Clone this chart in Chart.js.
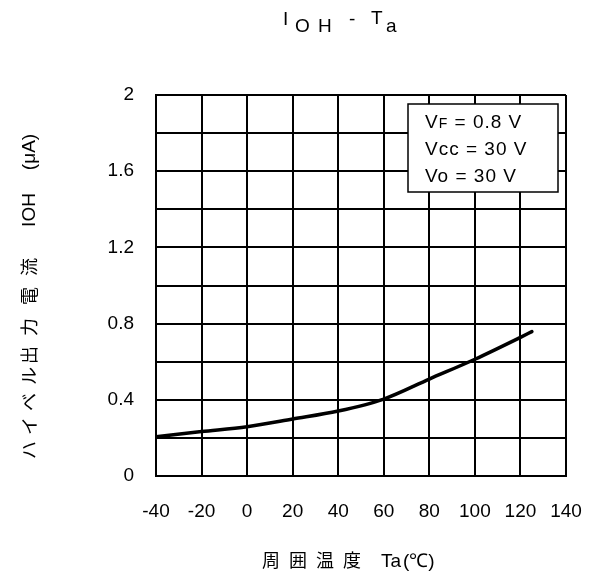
<!DOCTYPE html>
<html>
<head>
<meta charset="utf-8">
<script src="https://cdn.jsdelivr.net/npm/chart.js@4"></script>
<style>
html,body{margin:0;padding:0;background:#fff;}
#wrap{width:592px;height:576px;position:relative;}
</style>
</head>
<body>
<div id="wrap"><canvas id="c" width="592" height="576"></canvas></div>
<script>
// Data
const temps = [-40, -20, 0, 20, 40, 60, 80, 100, 120, 125];
const iohValues = [0.206, 0.233, 0.259, 0.299, 0.341, 0.404, 0.509, 0.613, 0.728, 0.758];
const xTicks = [-40, -20, 0, 20, 40, 60, 80, 100, 120, 140];
const yLabelTicks = [0, 0.4, 0.8, 1.2, 1.6, 2];
const conditionLines = [["V", "F", " = 0.8 V"], ["Vcc = 30 V", "", ""], ["Vo = 30 V", "", ""]];

const LAT = '"Liberation Sans", Arial, sans-serif';
const CJK = '"Noto Sans CJK JP", sans-serif';

const points = temps.map((t, i) => ({x: t, y: iohValues[i]}));

const decor = {
  id: 'decor',
  afterDraw(chart) {
    const ctx = chart.ctx;
    ctx.save();
    ctx.fillStyle = '#000';
    ctx.textBaseline = 'alphabetic';
    ctx.textAlign = 'left';
    // Title  I_OH - T_a
    ctx.font = '19px ' + LAT;
    ctx.fillText('I', 283, 25);
    ctx.fillText('O', 295, 32);
    ctx.fillText('H', 318, 32);
    ctx.fillText('-', 349, 25);
    ctx.fillText('T', 371, 24);
    ctx.fillText('a', 386, 32);

    // Condition box
    const bx = 408, by = 104, bw = 150, bh = 88;
    ctx.fillStyle = '#fff';
    ctx.fillRect(bx, by, bw, bh);
    ctx.strokeStyle = '#000';
    ctx.lineWidth = 1.5;
    ctx.strokeRect(bx, by, bw, bh);
    ctx.fillStyle = '#000';
    const baselines = [128, 155, 182];
    ctx.letterSpacing = '1px';
    conditionLines.forEach((ln, i) => {
      let x = 425;
      ctx.font = '19px ' + LAT;
      ctx.fillText(ln[0], x, baselines[i]);
      x += ctx.measureText(ln[0]).width;
      if (ln[1]) {
        ctx.font = '14px ' + LAT;
        ctx.fillText(ln[1], x, baselines[i]);
        x += ctx.measureText(ln[1]).width;
      }
      if (ln[2]) {
        ctx.font = '19px ' + LAT;
        ctx.fillText(ln[2], x, baselines[i]);
      }
    });
    ctx.letterSpacing = '0px';

    // X axis title
    ctx.textAlign = 'center';
    ctx.textBaseline = 'middle';
    ctx.font = '18px ' + CJK;
    [['周', 271], ['囲', 298], ['温', 325], ['度', 352]].forEach(p => ctx.fillText(p[0], p[1], 560));
    ctx.textAlign = 'left';
    ctx.textBaseline = 'alphabetic';
    ctx.font = '19px ' + LAT;
    ctx.fillText('Ta', 381, 567);
    ctx.fillText('(℃)', 403, 567);

    // Y axis title (rotated)
    ctx.translate(29, 0);
    ctx.rotate(-Math.PI / 2);
    ctx.textAlign = 'center';
    ctx.textBaseline = 'middle';
    ctx.font = '18px ' + CJK;
    [['ハ', 450], ['イ', 426], ['ベ', 402], ['ル', 376], ['出', 355], ['力', 327], ['電', 296], ['流', 267]]
      .forEach(p => ctx.fillText(p[0], -p[1], 0));
    ctx.font = '19px ' + LAT;
    ctx.fillText('IOH', -210, 1);
    ctx.fillText('(μA)', -152, 1);
    ctx.restore();
  }
};

new Chart(document.getElementById('c'), {
  type: 'line',
  data: {
    datasets: [{
      data: points,
      borderColor: '#000',
      borderWidth: 3.5,
      pointRadius: 0,
      fill: false,
      cubicInterpolationMode: 'monotone',
      borderCapStyle: 'round'
    }]
  },
  options: {
    responsive: false,
    animation: false,
    devicePixelRatio: 1,
    layout: {padding: {left: 0, top: 95, right: 26, bottom: 0}},
    plugins: {legend: {display: false}, tooltip: {enabled: false}, title: {display: false}},
    scales: {
      x: {
        type: 'linear',
        min: -40, max: 140,
        afterFit(s) { s.height = 100; s.paddingLeft = 0; s.paddingRight = 0; },
        afterBuildTicks(s) { s.ticks = xTicks.map(v => ({value: v})); },
        ticks: {color: '#000', font: {family: LAT, size: 19}, padding: 24, maxRotation: 0, autoSkip: false},
        grid: {color: '#000', lineWidth: 2, drawTicks: false},
        border: {color: '#000', width: 2}
      },
      y: {
        min: 0, max: 2,
        afterFit(s) { s.width = 156; s.paddingTop = 0; s.paddingBottom = 0; },
        ticks: {
          stepSize: 0.2,
          color: '#000', font: {family: LAT, size: 19}, padding: 22, autoSkip: false,
          callback(v) {
            const r = Math.round(v * 10) / 10;
            return yLabelTicks.some(t => Math.abs(t - r) < 1e-6) ? String(r) : '';
          }
        },
        grid: {color: '#000', lineWidth: 2, drawTicks: false},
        border: {color: '#000', width: 2}
      }
    }
  },
  plugins: [decor]
});
</script>
</body>
</html>
